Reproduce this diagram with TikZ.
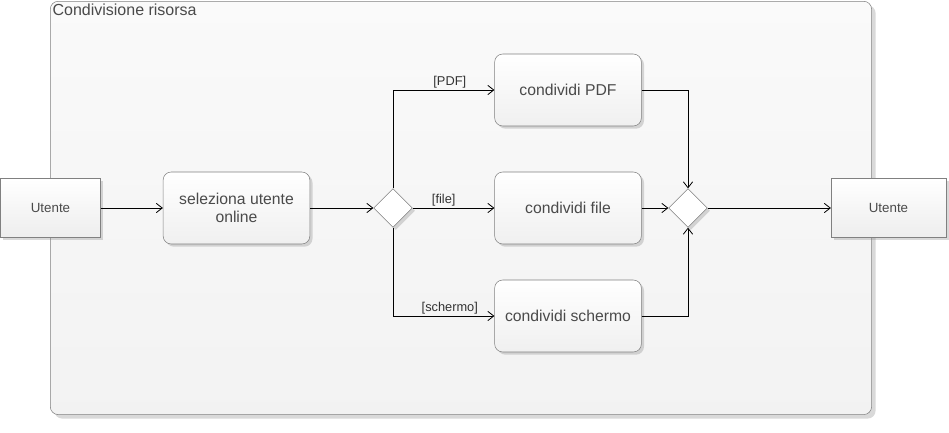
\documentclass[tikz,border=0pt]{standalone}
\usepackage{fontspec}
\setmainfont{Liberation Sans}
\usepackage{tikz}
\usetikzlibrary{arrows.meta}
\usetikzlibrary{shapes.geometric}
\usetikzlibrary{shadows}
\tikzset{>={Straight Barb[length=4.5pt,width=7pt]}}

\definecolor{edgegray}{HTML}{808080}
\definecolor{textgray}{HTML}{4a4a4a}

\tikzset{
  actbox/.style={rectangle,rounded corners=6pt,draw=edgegray,
    top color=white,bottom color=black!6,text=textgray,
    minimum width=110pt,minimum height=54pt,align=center,
    font=\fontsize{11.8}{14}\selectfont,
    drop shadow={shadow xshift=2pt,shadow yshift=-2pt,opacity=0.3}},
  actorbox/.style={rectangle,draw=edgegray,
    top color=white,bottom color=black!7,text=textgray,
    minimum height=44pt,font=\fontsize{10}{12}\selectfont,
    drop shadow={shadow xshift=2pt,shadow yshift=-2pt,opacity=0.3}},
  choice/.style={diamond,draw=edgegray,fill=white,inner sep=0pt,
    minimum size=29pt,
    drop shadow={shadow xshift=2pt,shadow yshift=-2pt,opacity=0.3}},
  guard/.style={above,inner sep=1pt,text=black!80,font=\fontsize{9.6}{11}\selectfont},
  flow/.style={->,black,line width=0.6pt}
}

\begin{document}
\begin{tikzpicture}[x=0.75pt,y=-0.75pt]
    \useasboundingbox (0,0) rectangle (949,432);

    % frame
    \node [rectangle,rounded corners=6pt,draw=edgegray,
    top color=black!2,bottom color=black!5,
    minimum width=616pt,minimum height=310pt,anchor=north west,
    drop shadow={shadow xshift=3pt,shadow yshift=-3pt,opacity=0.3}]
    (frame) at (50,1) {};
    \node [anchor=north west,inner sep=1pt,text=textgray,
    font=\fontsize{12}{14}\selectfont] (title) at (51,2) {Condivisione risorsa};

    % actors
    \node [actorbox,minimum width=75pt] (userL) at (50.5,208) {Utente};
    \node [actorbox,minimum width=86pt] (userR) at (888.5,208) {Utente};

    % actions
    \node [actbox] (select) at (236.5,208) {seleziona utente\\online};
    \node [actbox] (pdf) at (568,90) {condividi PDF};
    \node [actbox] (file) at (568,208) {condividi file};
    \node [actbox] (screen) at (568,316) {condividi schermo};

    % decision and merge
    \node [choice] (split) at (393,208) {};
    \node [choice] (merge) at (688,208) {};

    \draw [flow] (userL) -- (select);
    \draw [flow] (select) -- (split);
    \draw [flow] (split.north) |- node [guard,pos=0.78] {[PDF]} (pdf.west);
    \draw [flow] (split.east) -- node [guard,pos=0.38] {[file]} (file.west);
    \draw [flow] (split.south) |- node [guard,pos=0.78] {[schermo]} (screen.west);
    \draw [flow] (pdf.east) -| (merge.north);
    \draw [flow] (file.east) -- (merge.west);
    \draw [flow] (screen.east) -| (merge.south);
    \draw [flow] (merge.east) -- (userR.west);
  \end{tikzpicture}
\end{document}
